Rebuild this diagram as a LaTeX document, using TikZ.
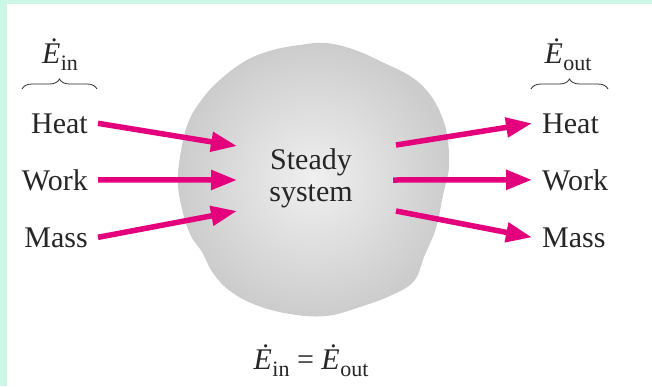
\documentclass[tikz,border=0pt]{standalone}
\usepackage{fontspec}
\setmainfont{Liberation Serif}
\usetikzlibrary{arrows.meta,decorations.pathreplacing}
\definecolor{mint}{RGB}{204,247,230}
\definecolor{flowpink}{RGB}{228,0,124}
\definecolor{bracegray}{RGB}{45,45,45}
\newcommand{\Edotsub}[1]{\textit{\.{E}}\kern0.5pt\raisebox{-7pt}{\fontsize{22}{22}\selectfont #1}}
\begin{document}
\begin{tikzpicture}[x=1pt,y=-1pt,
  lbl/.style={font=\fontsize{30}{32}\selectfont, inner sep=0pt, text=black!85},
  flow/.style={draw=flowpink, line width=5.5pt, -{Triangle[length=26pt,width=19pt]}},
  bracestyle/.style={draw=bracegray, line width=0.8pt, decorate, decoration={brace, amplitude=10pt}}]
\useasboundingbox (0,0) rectangle (652,386);
\fill[white] (0,0) rectangle (652,386);
\fill[mint] (0,0) rectangle (652,3.5);
\fill[mint] (0,0) rectangle (6.5,386);
% system blob
\shade[inner color=gray!12, outer color=gray!40]
  plot[smooth cycle, tension=0.65] coordinates {
  (326,43) (300,45) (273,50) (247,60) (222,78) (203,98) (188,123) (180,157)
  (178,185) (183,213) (191,236) (202,252) (213,273) (230,291) (256,305) (290,314)
  (326,316) (360,307) (392,295) (414,281) (424,257) (436,228) (443,195) (449,167)
  (447,135) (440,112) (428,92) (410,76) (382,62) (355,50)};
\node[lbl, align=center] (sys) at (311,178) {Steady\\system};
% left labels
\node[lbl, anchor=base east] (hl) at (88,133) {Heat};
\node[lbl, anchor=base east] (wl) at (88,190) {Work};
\node[lbl, anchor=base east] (ml) at (88,247) {Mass};
% right labels
\node[lbl, anchor=base west] (hr) at (542,133) {Heat};
\node[lbl, anchor=base west] (wr) at (542,190) {Work};
\node[lbl, anchor=base west] (mr) at (542,247) {Mass};
% energy labels
\node[lbl, anchor=base] (ein) at (60,63) {\Edotsub{in}};
\node[lbl, anchor=base] (eout) at (568,63) {\Edotsub{out}};
\node[lbl, anchor=base] (bal) at (311,369) {\Edotsub{in} = \Edotsub{out}};
% braces
\draw[bracestyle] (22,89) -- (97,89);
\draw[bracestyle] (531,89) -- (608,89);
% arrow end points inside the system
\coordinate (hin) at (237,146);
\coordinate (win) at (237,180);
\coordinate (min) at (237,211);
\coordinate (hout) at (396,145);
\coordinate (wout) at (393,180);
\coordinate (mout) at (396,211);
\draw[flow] ([xshift=10pt]hl.east) -- (hin);
\draw[flow] ([xshift=10pt]wl.east) -- (win);
\draw[flow] ([xshift=10pt]ml.east) -- (min);
\draw[flow] (hout) -- ([xshift=-10pt]hr.west);
\draw[flow] (wout) -- ([xshift=-10pt]wr.west);
\draw[flow] (mout) -- ([xshift=-10pt]mr.west);
\end{tikzpicture}
\end{document}
